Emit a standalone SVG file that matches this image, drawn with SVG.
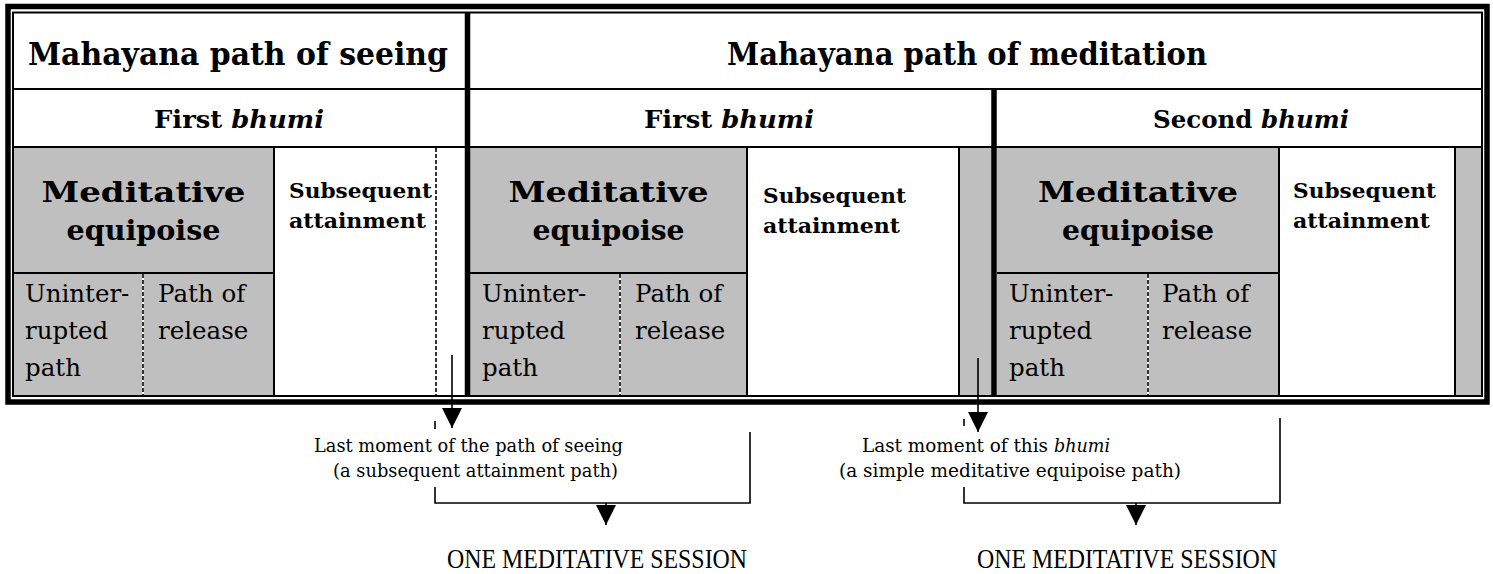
<svg xmlns="http://www.w3.org/2000/svg" width="1493" height="574" viewBox="0 0 1493 574">
<style>
.hd{font-family:"DejaVu Serif","Liberation Serif",serif;font-weight:bold;font-size:31px;fill:#000}
.bh{font-family:"DejaVu Serif","Liberation Serif",serif;font-weight:bold;font-size:24px;fill:#000}
.me{font-family:"DejaVu Serif","Liberation Serif",serif;font-weight:bold;font-size:27px;fill:#000}
.sa{font-family:"DejaVu Serif","Liberation Serif",serif;font-weight:bold;font-size:20px;fill:#000}
.rg{font-family:"DejaVu Serif","Liberation Serif",serif;font-size:24.5px;fill:#000}
.lb{font-family:"DejaVu Serif","Liberation Serif",serif;font-size:18.5px;fill:#000}
.it{font-style:italic}
.cap{font-family:"Liberation Serif","DejaVu Serif",serif;font-size:27px;fill:#000}
.gray{fill:#bfbfbf}
.thin{stroke:#000;stroke-width:2;fill:none}
.thick{stroke:#000;stroke-width:5.5;fill:none}
.dashbg{stroke:#fff;stroke-width:2}
.dash{stroke:#000;stroke-width:1.6;stroke-dasharray:4 2}
.con{stroke:#000;stroke-width:1.6;fill:none}
</style>
<defs>
<marker id="tri" markerUnits="userSpaceOnUse" markerWidth="20" markerHeight="20" viewBox="0 0 20 20" refX="20" refY="10" orient="auto">
<path d="M0,0 L20,10 L0,20 Z" fill="#000"/>
</marker>
</defs>
<rect x="0" y="0" width="1493" height="574" fill="#fff"/>

<g id="backgrounds">
<rect class="gray" x="13" y="147" width="261" height="249"/>
<rect class="gray" x="470" y="147" width="277" height="249"/>
<rect class="gray" x="959" y="147" width="35" height="249"/>
<rect class="gray" x="997" y="147" width="282" height="249"/>
<rect class="gray" x="1455" y="147" width="27" height="249"/>
</g>

<g id="frame">
<rect class="thick" x="8" y="6.5" width="1479" height="395.5"/>
<rect class="thin" x="13" y="12.5" width="1469" height="383.5"/>
<line class="thin" x1="13" y1="89" x2="1482" y2="89"/>
<line class="thin" x1="13" y1="147" x2="1482" y2="147"/>
<line class="thin" x1="13" y1="273" x2="274" y2="273"/>
<line class="thin" x1="470" y1="273" x2="747" y2="273"/>
<line class="thin" x1="997" y1="273" x2="1279" y2="273"/>
<line class="thin" x1="274" y1="147" x2="274" y2="396"/>
<line class="thin" x1="747" y1="147" x2="747" y2="396"/>
<line class="thin" x1="959" y1="147" x2="959" y2="396"/>
<line class="thin" x1="1279" y1="147" x2="1279" y2="396"/>
<line class="thin" x1="1455" y1="147" x2="1455" y2="396"/>
<line class="thick" x1="467.5" y1="12" x2="467.5" y2="396"/>
<line class="thick" x1="994" y1="89" x2="994" y2="396"/>
<line class="dashbg" x1="143" y1="274" x2="143" y2="395"/>
<line class="dash" x1="143" y1="274" x2="143" y2="395"/>
<line class="dash" x1="436" y1="148" x2="436" y2="395"/>
<line class="dashbg" x1="620" y1="274" x2="620" y2="395"/>
<line class="dash" x1="620" y1="274" x2="620" y2="395"/>
<line class="dashbg" x1="1148" y1="274" x2="1148" y2="395"/>
<line class="dash" x1="1148" y1="274" x2="1148" y2="395"/>
</g>

<g id="hdr-seeing"><text class="hd" x="28" y="65" textLength="420" lengthAdjust="spacingAndGlyphs">Mahayana path of seeing</text></g>
<g id="hdr-meditation"><text class="hd" x="727" y="65" textLength="480" lengthAdjust="spacingAndGlyphs">Mahayana path of meditation</text></g>

<g id="bhumi1-seeing"><text class="bh" x="239" y="128" text-anchor="middle" textLength="170" lengthAdjust="spacingAndGlyphs">First <tspan class="it">bhumi</tspan></text></g>
<g id="bhumi1-meditation"><text class="bh" x="729" y="128" text-anchor="middle" textLength="170" lengthAdjust="spacingAndGlyphs">First <tspan class="it">bhumi</tspan></text></g>
<g id="bhumi2-meditation"><text class="bh" x="1251" y="128" text-anchor="middle" textLength="196" lengthAdjust="spacingAndGlyphs">Second <tspan class="it">bhumi</tspan></text></g>

<g id="equipoise-1">
<text class="me" x="143.5" y="202" text-anchor="middle" textLength="204" lengthAdjust="spacingAndGlyphs">Meditative</text>
<text class="me" x="143.5" y="240" text-anchor="middle" textLength="154" lengthAdjust="spacingAndGlyphs">equipoise</text>
</g>
<g id="uninterrupted-1"><text class="rg"><tspan x="25" y="302">Uninter-</tspan><tspan x="25" y="339">rupted</tspan><tspan x="25" y="376">path</tspan></text></g>
<g id="release-1"><text class="rg"><tspan x="158" y="302">Path of</tspan><tspan x="158" y="339">release</tspan></text></g>
<g id="subsequent-1">
<text class="sa" x="289" y="198" textLength="143" lengthAdjust="spacingAndGlyphs">Subsequent</text>
<text class="sa" x="289" y="228" textLength="137" lengthAdjust="spacingAndGlyphs">attainment</text>
</g>

<g id="equipoise-2">
<text class="me" x="608.5" y="202" text-anchor="middle" textLength="200" lengthAdjust="spacingAndGlyphs">Meditative</text>
<text class="me" x="608.5" y="240" text-anchor="middle" textLength="152" lengthAdjust="spacingAndGlyphs">equipoise</text>
</g>
<g id="uninterrupted-2"><text class="rg"><tspan x="482" y="302">Uninter-</tspan><tspan x="482" y="339">rupted</tspan><tspan x="482" y="376">path</tspan></text></g>
<g id="release-2"><text class="rg"><tspan x="635" y="302">Path of</tspan><tspan x="635" y="339">release</tspan></text></g>
<g id="subsequent-2">
<text class="sa" x="763" y="203" textLength="143" lengthAdjust="spacingAndGlyphs">Subsequent</text>
<text class="sa" x="763" y="233" textLength="137" lengthAdjust="spacingAndGlyphs">attainment</text>
</g>

<g id="equipoise-3">
<text class="me" x="1138" y="202" text-anchor="middle" textLength="200" lengthAdjust="spacingAndGlyphs">Meditative</text>
<text class="me" x="1138" y="240" text-anchor="middle" textLength="152" lengthAdjust="spacingAndGlyphs">equipoise</text>
</g>
<g id="uninterrupted-3"><text class="rg"><tspan x="1009" y="302">Uninter-</tspan><tspan x="1009" y="339">rupted</tspan><tspan x="1009" y="376">path</tspan></text></g>
<g id="release-3"><text class="rg"><tspan x="1162" y="302">Path of</tspan><tspan x="1162" y="339">release</tspan></text></g>
<g id="subsequent-3">
<text class="sa" x="1293" y="198" textLength="143" lengthAdjust="spacingAndGlyphs">Subsequent</text>
<text class="sa" x="1293" y="228" textLength="137" lengthAdjust="spacingAndGlyphs">attainment</text>
</g>

<g id="last-moment-seeing">
<text class="lb" x="314" y="452" textLength="309" lengthAdjust="spacingAndGlyphs">Last moment of the path of seeing</text>
<text class="lb" x="333" y="477" textLength="285" lengthAdjust="spacingAndGlyphs">(a subsequent attainment path)</text>
</g>
<g id="last-moment-bhumi">
<text class="lb" x="862" y="452" textLength="186" lengthAdjust="spacingAndGlyphs">Last moment of this</text>
<text class="lb it" x="1054" y="452" textLength="56" lengthAdjust="spacingAndGlyphs">bhumi</text>
<text class="lb" x="839" y="477" textLength="342" lengthAdjust="spacingAndGlyphs">(a simple meditative equipoise path)</text>
</g>
<g id="session-1"><text class="cap" x="597" y="568" text-anchor="middle" textLength="300" lengthAdjust="spacingAndGlyphs">ONE MEDITATIVE SESSION</text></g>
<g id="session-2"><text class="cap" x="1127" y="568" text-anchor="middle" textLength="300" lengthAdjust="spacingAndGlyphs">ONE MEDITATIVE SESSION</text></g>

<g id="connectors">
<path class="con" d="M452,355 V428" marker-end="url(#tri)"/>
<path class="con" d="M435,421 V429"/>
<path class="con" d="M435,487 V503 H750 V432"/>
<path class="con" d="M606,503 V525" marker-end="url(#tri)"/>
<path class="con" d="M978,358 V432" marker-end="url(#tri)"/>
<path class="con" d="M964,419 V426"/>
<path class="con" d="M964,487 V503 H1280 V418"/>
<path class="con" d="M1136,503 V525" marker-end="url(#tri)"/>
</g>
</svg>
